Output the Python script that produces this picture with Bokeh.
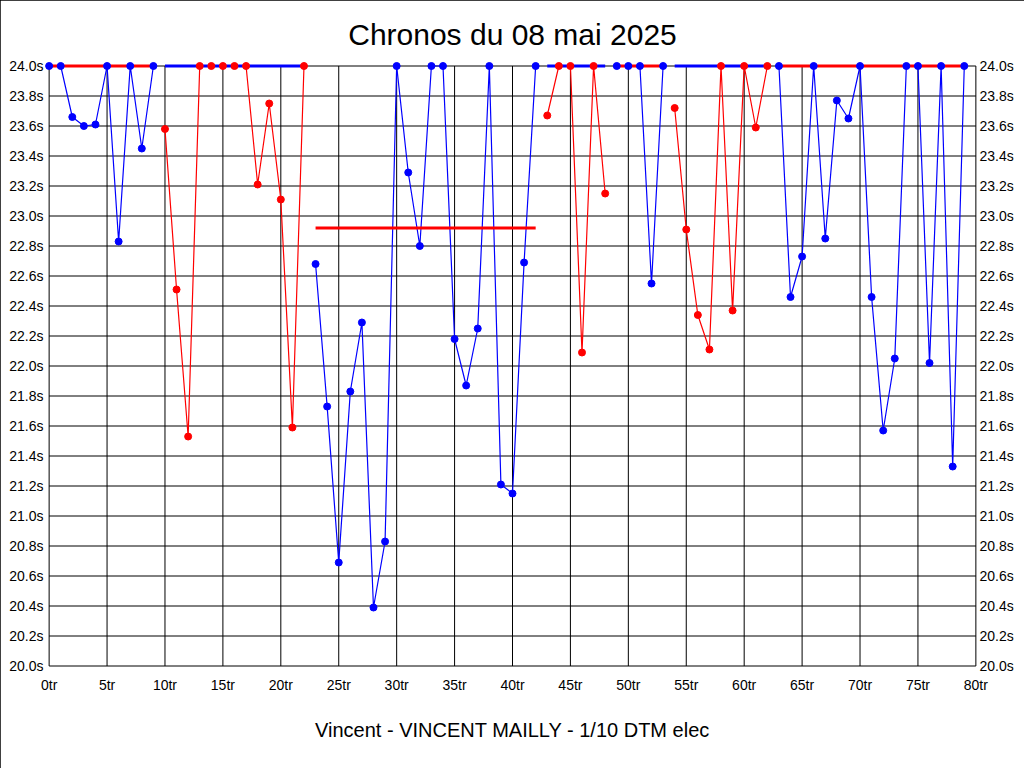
from bokeh.plotting import figure
from bokeh.models import (FixedTicker, PrintfTickFormatter, LinearAxis, Title,
                          Range1d)
from bokeh.embed import file_html
from bokeh.resources import INLINE

# ---- data (lap times in seconds, values above 24.0 s shown clipped at 24.0) ----
seg_colors = ["blue", "red", "blue", "red", "blue", "red", "blue"]
avg_colors = ["red", "blue", "red", "blue", "red", "blue", "red"]
seg_first_lap = [0, 10, 23, 43, 49, 54, 63]
seg_times = [
    [24.0, 24.0, 23.66, 23.60, 23.61, 24.0, 22.83, 24.0, 23.45, 24.0],
    [23.58, 22.51, 21.53, 24.0, 24.0, 24.0, 24.0, 24.0, 23.21, 23.75, 23.11, 21.59, 24.0],
    [22.68, 21.73, 20.69, 21.83, 22.29, 20.39, 20.83, 24.0, 23.29, 22.80, 24.0, 24.0,
     22.18, 21.87, 22.25, 24.0, 21.21, 21.15, 22.69, 24.0],
    [23.67, 24.0, 24.0, 22.09, 24.0, 23.15],
    [24.0, 24.0, 24.0, 22.55, 24.0],
    [23.72, 22.91, 22.34, 22.11, 24.0, 22.37, 24.0, 23.59, 24.0],
    [24.0, 22.46, 22.73, 24.0, 22.85, 23.77, 23.65, 24.0, 22.46, 21.57, 22.05, 24.0,
     24.0, 22.02, 24.0, 21.33, 24.0],
]
seg_avg = [24.0, 24.0, 22.92, 24.0, 24.0, 24.0, 24.0]

y_ticks = [20.0, 20.2, 20.4, 20.6, 20.8, 21.0, 21.2, 21.4, 21.6, 21.8, 22.0,
           22.2, 22.4, 22.6, 22.8, 23.0, 23.2, 23.4, 23.6, 23.8, 24.0]
x_ticks = [0, 5, 10, 15, 20, 25, 30, 35, 40, 45, 50, 55, 60, 65, 70, 75, 80]

title_text = "Chronos du 08 mai 2025"
footer_text = "Vincent - VINCENT MAILLY - 1/10 DTM elec"

FONT = "Liberation Sans"
X_MIN, X_MAX = 0, 80
Y_MIN, Y_MAX = 20.0, 24.0

p = figure(frame_width=936, frame_height=609,
           min_border_left=44, min_border_right=44,
           min_border_top=61, min_border_bottom=98,
           x_range=Range1d(X_MIN - 0.4, X_MAX + 0.4),
           y_range=Range1d(Y_MIN - 0.03, Y_MAX + 0.03),
           output_backend="svg", toolbar_location=None,
           background_fill_color="white", border_fill_color="white",
           outline_line_color=None)

p.styles = {"outline": "1px solid black", "outline-offset": "-1px"}

p.title.text = title_text
p.title.align = "center"
p.title.text_font = FONT
p.title.text_font_size = "30px"
p.title.text_font_style = "normal"
p.title.text_color = "black"
p.title.standoff = 21

p.add_layout(Title(text=footer_text, align="center", text_font=FONT,
                   text_font_size="20px", text_font_style="normal",
                   text_color="black", standoff=42), "below")

yt = FixedTicker(ticks=y_ticks)
xt = FixedTicker(ticks=x_ticks)
yf = PrintfTickFormatter(format="%.1fs")
xf = PrintfTickFormatter(format="%dtr")

for ax in [p.xaxis[0], p.yaxis[0]]:
    ax.axis_line_color = None
    ax.major_tick_line_color = None
    ax.minor_tick_line_color = None
    ax.major_label_text_font = FONT
    ax.major_label_text_font_size = "14px"
    ax.major_label_text_color = "black"
p.xaxis[0].ticker = xt
p.xaxis[0].formatter = xf
p.xaxis[0].major_label_standoff = 0
p.yaxis[0].ticker = yt
p.yaxis[0].formatter = yf
p.yaxis[0].major_label_standoff = -5

ry = LinearAxis(ticker=yt, formatter=yf, axis_line_color=None,
                major_tick_line_color=None, minor_tick_line_color=None,
                major_label_text_font=FONT, major_label_text_font_size="14px",
                major_label_text_color="black", major_label_standoff=-7)
p.add_layout(ry, "right")

p.xgrid.visible = False
p.ygrid.visible = False

# grid drawn exactly over the data area (0..80 tr, 20..24 s)
p.segment(x0=[X_MIN] * len(y_ticks), x1=[X_MAX] * len(y_ticks),
          y0=y_ticks, y1=y_ticks, line_color="black", line_width=1)
p.segment(x0=x_ticks, x1=x_ticks, y0=[Y_MIN] * len(x_ticks), y1=[Y_MAX] * len(x_ticks),
          line_color="black", line_width=1)

# series lines
for first, times, col in zip(seg_first_lap, seg_times, seg_colors):
    laps = [first + i for i in range(len(times))]
    p.line(laps, times, line_color=col, line_width=1.2)

# segment averages (clipped at 24.0 s)
for first, times, avg, col in zip(seg_first_lap, seg_times, seg_avg, avg_colors):
    last = first + len(times) - 1
    p.line([first, last], [avg, avg], line_color=col, line_width=3)

# markers
for first, times, col in zip(seg_first_lap, seg_times, seg_colors):
    laps = [first + i for i in range(len(times))]
    p.scatter(laps, times, marker="circle", size=7, fill_color=col, line_color=col)

open("out.html", "w").write(file_html(p, INLINE))
